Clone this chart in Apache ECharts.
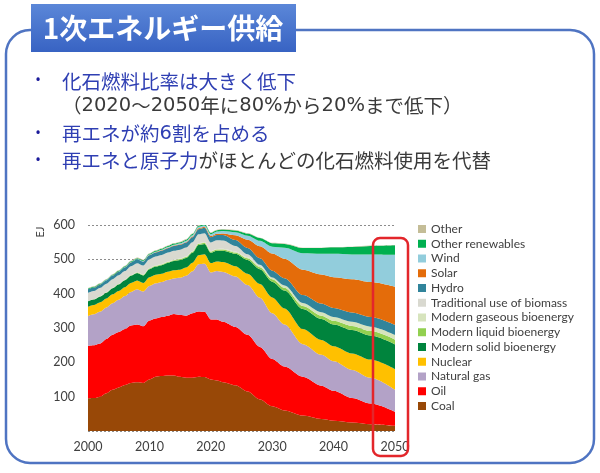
<!DOCTYPE html>
<html>
<head>
<meta charset="utf-8">
<script src="https://cdn.jsdelivr.net/npm/echarts@6/dist/echarts.min.js"></script>
<style>
html,body{margin:0;padding:0;background:#fff;}
#c{width:600px;height:473px;}
</style>
</head>
<body>
<div id="c"></div>
<script>
// ---- data (EJ) ----
var years = [2000,2001,2002,2003,2004,2005,2006,2007,2008,2009,2010,2011,2012,2013,2014,2015,2016,2017,2018,2019,2020,2021,2022,
             2024,2026,2028,2030,2032,2035,2038,2040,2043,2046,2050];
var coal = [95,96,100,110,120,127,134,140,142,140,150,158,160,162,162,158,155,155,158,157,150,147,142,
            133,115,92,72,60,45,35,30,25,20,15];
var oil = [153,154,155,158,160,161,163,167,168,165,172,170,172,174,179,180,181,188,190,190,175,178,176,
           170,165,153,138,128,113,97,87,71,60,41];
var naturalGas = [87,90,93,92,92,94,96,98,103,101,100,102,102,104,103,108,116,122,138,140,137,141,145,
                  147,145,143,133,122,95,90,86,82,75,64];
var nuclear = [27,27,27,26,26,26,26,26,25,25,26,25,24,24,24,24,24,25,26,28,27,28,29,
               30,33,40,46,47,44,43,44,48,53,60];
var solidBio = [16,16,17,17,18,19,20,21,22,22,23,24,25,26,27,28,28,29,30,30,30,31,33,
                36,40,43,46,52,58,61,63,68,70,72];
var liquidBio = [0.4,0.5,0.5,0.6,0.7,0.8,1,1.3,1.6,1.8,2,2,2.2,2.4,2.6,2.8,3,3.2,3.4,3.6,3.4,3.6,3.8,
                 4,5,6,7,8,9,10,11,12,13,14];
var gaseousBio = [0.4,0.4,0.5,0.5,0.6,0.6,0.7,0.7,0.8,0.9,1,1,1.1,1.2,1.3,1.4,1.4,1.5,1.5,1.6,1.6,1.7,1.8,
                  3,3,4,5,7,9,10,11,12,13,14];
var tradBiomass = [24,24,24,25,25,25,25,26,26,26,26,26,26,26,26,26,26,26,26,26,25,25,24,
                   16,9,3,0,0,0,0,0,0,0,0];
var hydro = [10,10,10,10,10.5,10.5,11,11,11.5,11.5,12,12,13,13,14,14,14.5,14.5,15,15.5,15.5,15.5,16,
             17,18,19,20,21,23,25,26,27,28,29];
var solar = [0.2,0.2,0.2,0.2,0.3,0.3,0.3,0.4,0.4,0.5,0.6,0.8,1,1.2,1.4,1.6,1.9,2.2,2.6,3,3.4,4,5,
             14,24,35,50,57,74,85,90,97,102,111];
var wind = [0.1,0.1,0.2,0.2,0.3,0.4,0.5,0.6,0.8,1,1.2,1.5,1.8,2.2,2.5,3,3.4,3.8,4.2,4.6,5.2,6,7,
            9,12,16,20,32,48,60,68,72,80,93];
var otherRenewables = [2,2,2,2,2,2.1,2.2,2.3,2.4,2.5,2.6,2.7,2.8,2.9,3,3.1,3.2,3.3,3.4,3.5,3.6,3.8,4,
                       5,6,8,10,11,15,17,19,22,25,28];
var other = [1.5,1.5,1.5,1.5,1.5,1.5,1.5,1.5,1.5,1.5,1.5,1.5,1.5,1.5,1.5,1.5,1.5,1.5,1.5,1.5,1.5,1.5,1.5,
             1.5,1.5,1,1,1,1,1,1,1,1,1];

var seriesNames = ['Coal','Oil','Natural gas','Nuclear','Modern solid bioenergy','Modern liquid bioenergy',
                   'Modern gaseous bioenergy','Traditional use of biomass','Hydro','Solar','Wind','Other renewables','Other'];
var seriesData = [coal,oil,naturalGas,nuclear,solidBio,liquidBio,gaseousBio,tradBiomass,hydro,solar,wind,otherRenewables,other];
var seriesColors = ['#984807','#ff0000','#b3a2c7','#ffc000','#00843d','#92d050',
                    '#d7e4bd','#d9d9d0','#31849b','#e46c0a','#92cddc','#00b050','#c4bd97'];

var titleText = '1次エネルギー供給';
var bullet1 = '化石燃料比率は大きく低下';
var bullet1b = '（2020～2050年に80%から20%まで低下）';
var bullet2 = '再エネが約6割を占める';
var bullet3a = '再エネと原子力';
var bullet3b = 'がほとんどの化石燃料使用を代替';
var unitLabel = 'EJ';

// data items are [value, year]; encode maps them so stacking happens on the y (value) dimension
var series = seriesNames.map(function(n, i){
  return {
    name: n, type: 'line', stack: 'total',
    data: years.map(function(y, k){ return [seriesData[i][k], y]; }),
    encode: {x: 1, y: 0},
    symbol: 'none', smooth: 0.3, smoothMonotone: 'x',
    lineStyle: {width: 0}, areaStyle: {color: seriesColors[i], opacity: 1},
    itemStyle: {color: seriesColors[i]}, z: 2
  };
});

var CJK = '"Noto Sans CJK JP", "Noto Sans", sans-serif';
var blue = '#2f3fb3';
var dark = '#3a3a3a';
var FS = 19.5;

// wrap digit / percent runs in a wider latin font, CJK parts in style key
function richify(str, key){
  return str.replace(/([0-9%]+)/g, '}{' + key + 'n|$1}{' + key + '|').replace(/^/, '{' + key + '|') + '}';
}
var richStyles = {
  b: {fill: blue, fontSize: FS, fontFamily: CJK},
  bn: {fill: blue, fontSize: FS, fontFamily: '"DejaVu Sans"'},
  k: {fill: dark, fontSize: FS, fontFamily: CJK},
  kn: {fill: dark, fontSize: FS, fontFamily: '"DejaVu Sans"'}
};
function textEl(str, y){
  return {type: 'text', z: 11, style: {text: str, x: 62, y: y, verticalAlign: 'middle',
    fontSize: FS, fontFamily: CJK, rich: richStyles}};
}
function bulletEl(y){
  return {type: 'text', z: 11, style: {text: '•', x: 38, y: y, align: 'center', verticalAlign: 'middle',
    fill: '#1a1a9a', fontSize: 15, fontFamily: 'Noto Sans'}};
}

var chart = echarts.init(document.getElementById('c'), null, {renderer: 'canvas'});
chart.setOption({
  animation: false,
  backgroundColor: '#ffffff',
  grid: {left: 88, right: 205, top: 225, bottom: 42, containLabel: false},
  xAxis: {
    type: 'value', min: 2000, max: 2050, interval: 10,
    axisLine: {show: false}, axisTick: {show: false}, splitLine: {show: false},
    axisLabel: {color: '#404040', fontSize: 12.5, fontFamily: 'Lato', margin: 9,
      formatter: function(v){ return String(v); }}
  },
  yAxis: {
    type: 'value', min: 0, max: 600, interval: 100,
    axisLine: {show: false}, axisTick: {show: false},
    splitLine: {show: true, lineStyle: {color: '#8c8c8c', type: [2, 2], width: 1}},
    axisLabel: {color: '#404040', fontSize: 12.5, fontFamily: 'Lato', margin: 13,
      formatter: function(v){ return v === 0 ? '' : String(v); }}
  },
  legend: {
    orient: 'vertical', left: 413, top: 218,
    data: seriesNames.slice().reverse(),
    icon: 'rect', itemWidth: 8, itemHeight: 8, itemGap: 2.75,
    textStyle: {color: '#404040', fontSize: 12, fontFamily: 'Lato', lineHeight: 12},
    selectedMode: false
  },
  series: series,
  graphic: [
    {type: 'rect', z: 0, shape: {x: 6, y: 30, width: 588, height: 433, r: 24},
     style: {fill: 'none', stroke: '#4f74c2', lineWidth: 2.5}},
    {type: 'rect', z: 10, shape: {x: 31, y: 4, width: 265, height: 48},
     style: {fill: new echarts.graphic.LinearGradient(0, 0, 0, 1, [
       {offset: 0, color: '#5b87d8'}, {offset: 1, color: '#3863c3'}])}},
    {type: 'text', z: 11, style: {text: titleText, x: 163, y: 28, align: 'center', verticalAlign: 'middle',
      fill: '#ffffff', fontSize: 28, fontWeight: 'bold', fontFamily: CJK}},
    bulletEl(81), bulletEl(134), bulletEl(161),
    textEl(richify(bullet1, 'b'), 82),
    textEl(richify(bullet1b, 'k'), 106),
    textEl(richify(bullet2, 'b'), 134),
    textEl(richify(bullet3a, 'b') + richify(bullet3b, 'k'), 161),
    {type: 'text', z: 11, rotation: Math.PI / 2, x: 40, y: 232,
     style: {text: unitLabel, x: 0, y: 0, align: 'center', verticalAlign: 'middle',
      fill: '#404040', fontSize: 11, fontFamily: 'Lato'}},
    {type: 'rect', z: 100, shape: {x: 373, y: 238, width: 35, height: 218, r: 7},
     style: {fill: 'none', stroke: '#e3262b', lineWidth: 2.5}}
  ]
});
</script>
</body>
</html>
